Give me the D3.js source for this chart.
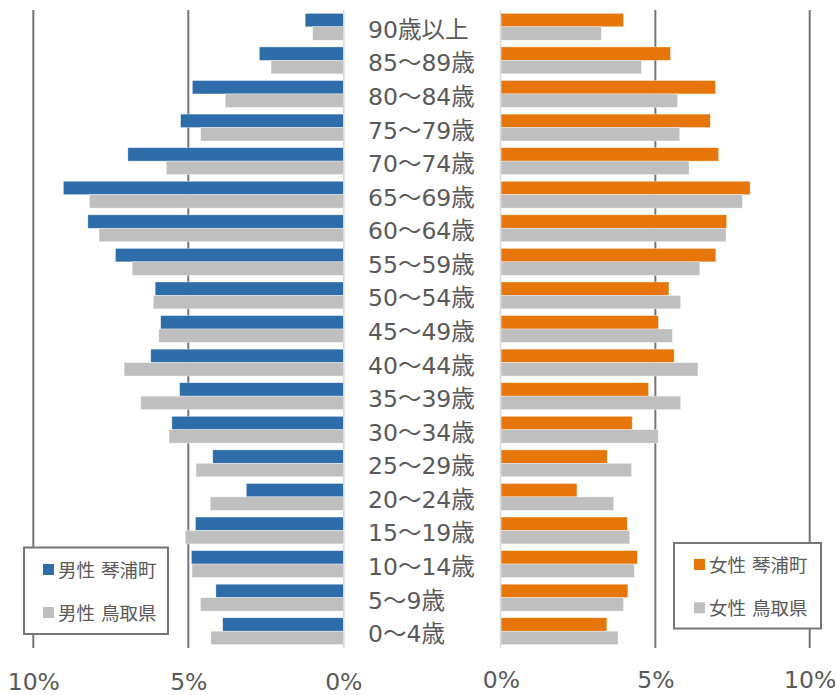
<!DOCTYPE html>
<html><head><meta charset="utf-8">
<script src="https://cdn.jsdelivr.net/npm/d3@7/dist/d3.min.js"></script>
<style>
html,body{margin:0;padding:0;background:#fff;}
svg{display:block;}
text{font-family:"DejaVu Sans","Noto Sans CJK JP",sans-serif;fill:#595959;}
</style></head>
<body>
<svg id="chart" width="836" height="695"></svg>
<script>
const categories = ["90歳以上","85〜89歳","80〜84歳","75〜79歳","70〜74歳","65〜69歳","60〜64歳","55〜59歳","50〜54歳","45〜49歳","40〜44歳","35〜39歳","30〜34歳","25〜29歳","20〜24歳","15〜19歳","10〜14歳","5〜9歳","0〜4歳"];
const maleTown   = [1.23,2.71,4.87,5.25,6.95,9.03,8.24,7.35,6.07,5.89,6.21,5.28,5.53,4.21,3.13,4.77,4.90,4.11,3.89];
const malePref   = [0.99,2.33,3.81,4.60,5.71,8.19,7.88,6.81,6.13,5.95,7.07,6.53,5.62,4.75,4.29,5.10,4.88,4.61,4.27];
const femaleTown = [3.97,5.49,6.95,6.78,7.05,8.07,7.31,6.96,5.44,5.10,5.61,4.78,4.25,3.44,2.46,4.09,4.42,4.11,3.43];
const femalePref = [3.25,4.55,5.72,5.79,6.09,7.82,7.29,6.44,5.82,5.55,6.38,5.82,5.09,4.23,3.65,4.17,4.32,3.97,3.79];
const tickValues = [0,5,10];
const tickLabels = ["0%","5%","10%"];
const legendMale = ["男性 琴浦町","男性 鳥取県"];
const legendFemale = ["女性 琴浦町","女性 鳥取県"];

const colBlue = "#2E6DA9", colOrange = "#E6760A", colGray = "#BFBFBF";
const gridCol = "#767676", zeroCol = "#D9D9D9", textCol = "#595959";

const svg = d3.select("#chart");
const plotTop = 10, plotBottom = 648;

const y = d3.scaleBand().domain(categories).range([plotTop, plotBottom]).paddingInner(0.2).paddingOuter(0.1);
const ySub = d3.scaleBand().domain([0,1]).range([0, y.bandwidth()]);

const xL = d3.scaleLinear().domain([10,0]).range([33.3,343.3]);
const xR = d3.scaleLinear().domain([0,10]).range([501,809.7]);

// gridlines (5%, 10%)
const g = svg.append("g");
[5,10].forEach(v=>{
  g.append("line").attr("x1",xL(v)).attr("x2",xL(v)).attr("y1",plotTop).attr("y2",plotBottom)
    .attr("stroke",gridCol).attr("stroke-width",2);
  g.append("line").attr("x1",xR(v)).attr("x2",xR(v)).attr("y1",plotTop).attr("y2",plotBottom)
    .attr("stroke",gridCol).attr("stroke-width",2);
});

function drawBars(scale, data, sub, color, left){
  svg.append("g").selectAll("rect").data(data).join("rect")
    .attr("x",(d)=> left ? scale(d) : scale(0))
    .attr("width",(d)=> left ? scale(0)-scale(d) : scale(d)-scale(0))
    .attr("y",(d,i)=> y(categories[i]) + ySub(sub))
    .attr("height", ySub.bandwidth())
    .attr("fill",color)
    .attr("stroke","#ffffff").attr("stroke-opacity",0.6).attr("stroke-width",0.6);
}
drawBars(xL, maleTown, 0, colBlue, true);
drawBars(xL, malePref, 1, colGray, true);
drawBars(xR, femaleTown, 0, colOrange, false);
drawBars(xR, femalePref, 1, colGray, false);

// zero lines
svg.append("line").attr("x1",xL(0)+0.5).attr("x2",xL(0)+0.5).attr("y1",plotTop).attr("y2",plotBottom)
  .attr("stroke",zeroCol).attr("stroke-width",1.5);
svg.append("line").attr("x1",xR(0)-0.5).attr("x2",xR(0)-0.5).attr("y1",plotTop).attr("y2",plotBottom)
  .attr("stroke",zeroCol).attr("stroke-width",1.5);

// axes labels
const fmt = d => tickLabels[tickValues.indexOf(d)];
const axL = d3.axisBottom(xL).tickValues(tickValues).tickFormat(fmt).tickSize(0).tickPadding(0);
const axR = d3.axisBottom(xR).tickValues(tickValues).tickFormat(fmt).tickSize(0).tickPadding(0);
const gL = svg.append("g").attr("transform","translate(0,689.5)").call(axL);
const gR = svg.append("g").attr("transform","translate(0,688)").call(axR);
[gL,gR].forEach(ga=>{
  ga.select(".domain").remove();
  ga.selectAll("text").attr("dy",0).attr("y",0)
    .style("font-family",'"DejaVu Sans","Noto Sans CJK JP",sans-serif')
    .style("font-size","23.5px").attr("fill",textCol);
});

// category labels
svg.append("g").selectAll("text").data(categories).join("text")
  .attr("x",368)
  .attr("y",d=> y(d) + y.bandwidth()/2 + 11)
  .style("font-size","23.5px")
  .text(d=>d);

// legends
function legend(x0,y0,w,h,labels,colors,sqX,rows){
  const lg = svg.append("g");
  lg.append("rect").attr("x",x0).attr("y",y0).attr("width",w).attr("height",h)
    .attr("fill","#fff").attr("stroke",gridCol).attr("stroke-width",2);
  labels.forEach((lab,i)=>{
    lg.append("rect").attr("x",sqX).attr("y",rows[i]-5.5).attr("width",11).attr("height",11).attr("fill",colors[i]);
    lg.append("text").attr("x",sqX+15).attr("y",rows[i]+7).style("font-size","18.5px").text(lab);
  });
}
legend(24,547.5,144,86.5,legendMale,[colBlue,colGray],43,[569.5,612.5]);
legend(674,543,147,85.5,legendFemale,[colOrange,colGray],694,[564.5,607.8]);
</script>
</body></html>
